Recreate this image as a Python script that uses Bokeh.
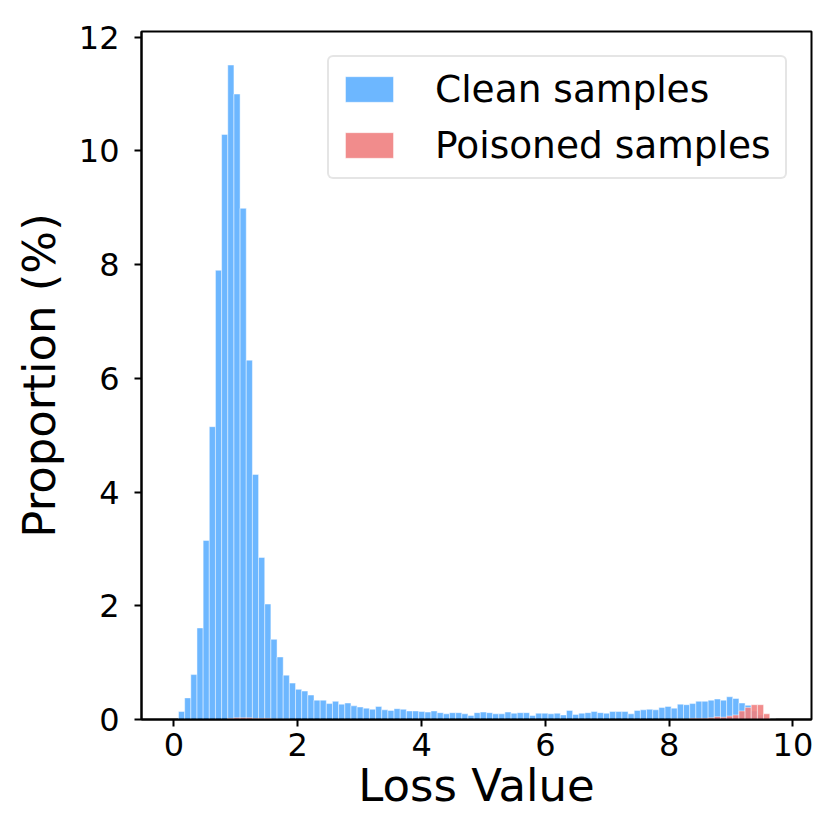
from bokeh.plotting import figure
from bokeh.models import Legend, LegendItem, Range1d, FixedTicker, ColumnDataSource
from bokeh.embed import file_html
from bokeh.resources import INLINE

# Histogram bins (loss value)
bin_start = 0.073
bin_width = 0.0995
n_bins = 97

# Proportion (%) per bin
clean = [0.14, 0.38, 0.79, 1.61, 3.15, 5.15, 7.90, 10.29, 11.51, 11.00,
         8.99, 6.32, 4.31, 2.85, 2.03, 1.41, 1.10, 0.78, 0.64, 0.53,
         0.50, 0.43, 0.34, 0.34, 0.28, 0.32, 0.27, 0.29, 0.24, 0.22,
         0.20, 0.18, 0.23, 0.17, 0.16, 0.19, 0.18, 0.15, 0.15, 0.14,
         0.13, 0.15, 0.12, 0.10, 0.12, 0.12, 0.10, 0.07, 0.12, 0.13,
         0.12, 0.10, 0.10, 0.13, 0.11, 0.12, 0.12, 0.07, 0.11, 0.11,
         0.10, 0.11, 0.08, 0.16, 0.09, 0.11, 0.12, 0.14, 0.12, 0.11,
         0.14, 0.14, 0.14, 0.10, 0.16, 0.17, 0.18, 0.17, 0.21, 0.23,
         0.20, 0.27, 0.26, 0.28, 0.32, 0.32, 0.34, 0.36, 0.34, 0.40,
         0.37, 0.29, 0.25, 0.15, 0.08, 0.02, 0.00]

poisoned = [0.00, 0.00, 0.00, 0.00, 0.00, 0.00, 0.00, 0.00, 0.02, 0.03,
            0.03, 0.03, 0.02, 0.02, 0.02, 0.01, 0.01, 0.01, 0.00, 0.00,
            0.00, 0.00, 0.00, 0.00, 0.00, 0.00, 0.00, 0.00, 0.00, 0.00,
            0.00, 0.00, 0.00, 0.00, 0.00, 0.00, 0.00, 0.00, 0.00, 0.00,
            0.00, 0.00, 0.00, 0.00, 0.00, 0.00, 0.00, 0.00, 0.00, 0.00,
            0.00, 0.00, 0.00, 0.00, 0.00, 0.00, 0.00, 0.00, 0.00, 0.00,
            0.00, 0.00, 0.00, 0.00, 0.00, 0.00, 0.00, 0.00, 0.00, 0.00,
            0.00, 0.00, 0.00, 0.00, 0.00, 0.00, 0.00, 0.00, 0.00, 0.00,
            0.01, 0.01, 0.01, 0.02, 0.02, 0.02, 0.03, 0.05, 0.04, 0.06,
            0.08, 0.15, 0.21, 0.26, 0.26, 0.10, 0.01]

x_ticks = [0, 2, 4, 6, 8, 10]
y_ticks = [0, 2, 4, 6, 8, 10, 12]

left = [bin_start + i * bin_width for i in range(n_bins)]
right = [l + bin_width for l in left]

FONT = "DejaVu Sans"

p = figure(output_backend="svg", toolbar_location=None,
           frame_width=670, frame_height=688,
           min_border_left=141, min_border_right=3,
           min_border_top=31, min_border_bottom=95,
           x_range=Range1d(-0.525, 10.3), y_range=Range1d(0, 12.1))

src_c = ColumnDataSource(dict(left=left, right=right, top=clean))
src_p = ColumnDataSource(dict(left=left, right=right, top=poisoned))

r_clean = p.quad(left="left", right="right", bottom=0, top="top", source=src_c,
                 fill_color="#1e90ff", fill_alpha=0.65,
                 line_color="white", line_alpha=0.65, line_width=0.7)
r_pois = p.quad(left="left", right="right", bottom=0, top="top", source=src_p,
                fill_color="#f08080", fill_alpha=0.9,
                line_color="white", line_alpha=0.65, line_width=0.7)

p.xgrid.visible = False
p.ygrid.visible = False
p.outline_line_color = "black"
p.outline_line_width = 2
p.outline_line_alpha = 1

for ax in (p.xaxis[0], p.yaxis[0]):
    ax.axis_line_width = 2
    ax.axis_line_color = "black"
    ax.major_tick_line_width = 2
    ax.major_tick_line_color = "black"
    ax.major_tick_out = 7
    ax.major_tick_in = 0
    ax.minor_tick_line_color = None
    ax.major_label_text_font = FONT
    ax.major_label_text_font_size = "32px"
    ax.major_label_text_color = "black"
    ax.axis_label_text_font = FONT
    ax.axis_label_text_font_size = "45px"
    ax.axis_label_text_font_style = "normal"
    ax.axis_label_text_color = "black"

p.xaxis[0].ticker = FixedTicker(ticks=x_ticks)
p.yaxis[0].ticker = FixedTicker(ticks=y_ticks)
p.xaxis[0].axis_label = "Loss Value"
p.yaxis[0].axis_label = "Proportion (%)"
p.xaxis[0].major_label_standoff = 6
p.yaxis[0].major_label_standoff = 15
p.xaxis[0].axis_label_standoff = 0
p.yaxis[0].axis_label_standoff = 10

legend = Legend(items=[LegendItem(label="Clean samples", renderers=[r_clean]),
                       LegendItem(label="Poisoned samples", renderers=[r_pois])],
                location=(186, 540))
legend.label_text_font = FONT
legend.label_text_font_size = "37.5px"
legend.label_text_color = "black"
legend.glyph_width = 60
legend.glyph_height = 32
legend.label_standoff = 36
legend.label_width = 340
legend.padding = 10
legend.spacing = 12
legend.margin = 0
legend.border_line_color = "#cccccc"
legend.border_line_width = 2
legend.background_fill_color = "white"
legend.background_fill_alpha = 0.8
if "border_radius" in Legend.properties():
    legend.border_radius = 6
p.add_layout(legend)

open("out.html", "w").write(file_html(p, INLINE))
